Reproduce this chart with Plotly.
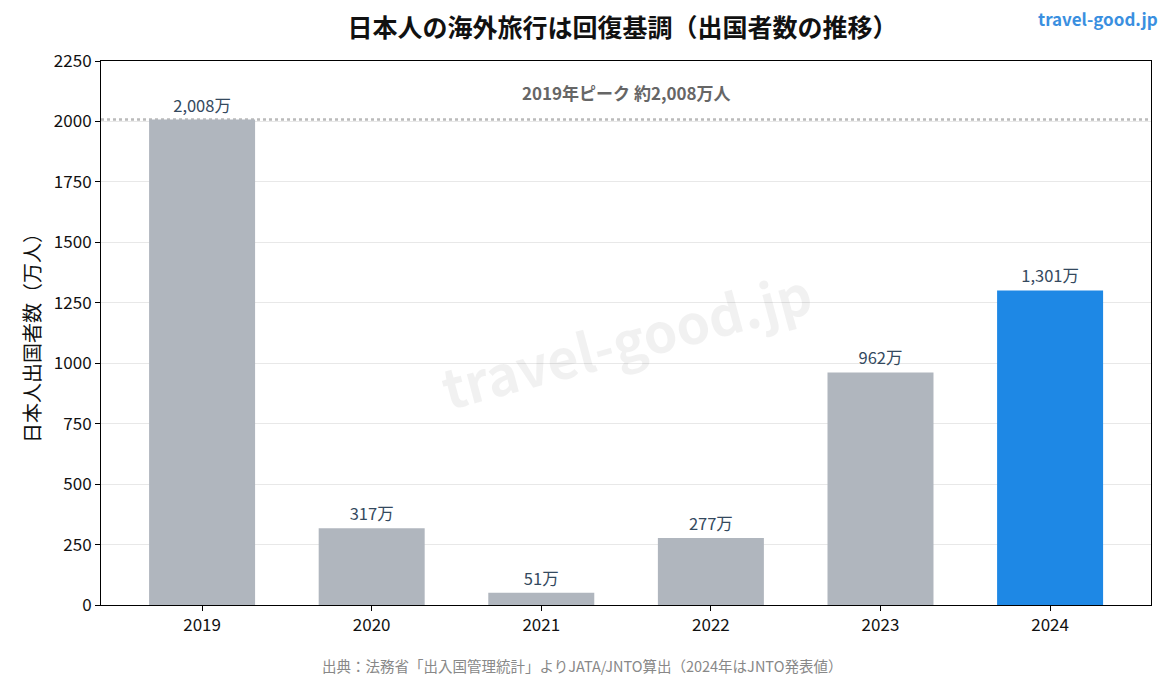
import plotly.graph_objects as go

years = ["2019", "2020", "2021", "2022", "2023", "2024"]
travelers = [2008, 317, 51, 277, 962, 1301]
labels = ["2,008万", "317万", "51万", "277万", "962万", "1,301万"]
colors = ["#b0b6be"] * 5 + ["#1e88e5"]
peak_value = 2008

FONT = "Noto Sans CJK JP"

fig = go.Figure()
fig.add_trace(go.Bar(
    x=years, y=travelers, marker_color=colors, width=0.625,
    marker_line_width=0,
    text=labels, textposition="outside", cliponaxis=False,
    textfont=dict(size=16.5, color="#34495e", family=FONT),
    hoverinfo="skip",
))

fig.add_shape(type="line", xref="paper", x0=0, x1=1, y0=peak_value, y1=peak_value,
              line=dict(color="#bbbbbb", width=2.5, dash="dot"), layer="below")

fig.add_annotation(xref="paper", x=0.5, y=2120, text="<b>2019年ピーク 約2,008万人</b>",
                   showarrow=False, font=dict(size=17, color="#666666", family=FONT))

fig.add_annotation(xref="paper", yref="paper", x=0.5, y=0.49, text="<b>travel-good.jp</b>",
                   showarrow=False, textangle=-15,
                   font=dict(size=54, color="rgba(0,0,0,0.055)", family=FONT))

fig.add_annotation(xref="paper", yref="paper", x=1.0086, y=1.079, xanchor="right", yanchor="middle",
                   text="<b>travel-good.jp</b>", showarrow=False,
                   font=dict(size=17, color="#3a8fe0", family=FONT))

fig.add_annotation(xref="paper", yref="paper", x=0.4577, y=-0.112, xanchor="center", yanchor="middle",
                   text="出典：法務省「出入国管理統計」よりJATA/JNTO算出（2024年はJNTO発表値）",
                   showarrow=False, font=dict(size=14.5, color="#888888", family=FONT))

fig.update_layout(
    width=1170, height=676,
    margin=dict(l=101, r=19, t=61, b=71),
    paper_bgcolor="white", plot_bgcolor="white",
    font=dict(family=FONT, color="#111111"),
    title=dict(text="<b>日本人の海外旅行は回復基調（出国者数の推移）</b>", x=0.532, xanchor="center",
               y=0.958, yanchor="middle", font=dict(size=25, color="#111111", family=FONT)),
    showlegend=False,
)
fig.update_xaxes(range=[-0.596, 5.595], showline=True, linecolor="black", linewidth=1, mirror=True,
                 ticks="outside", ticklen=5, tickcolor="black",
                 tickfont=dict(size=17, color="#111111"))
fig.update_yaxes(range=[0, 2250], dtick=250, showline=True, linecolor="black", linewidth=1,
                 mirror=True, ticks="outside", ticklen=5, tickcolor="black",
                 gridcolor="#e8e8e8", gridwidth=1, zeroline=False,
                 tickfont=dict(size=17, color="#111111"),
                 title=dict(text="日本人出国者数（万人）", font=dict(size=20, color="#111111"), standoff=7))

fig.write_html("out.html")
